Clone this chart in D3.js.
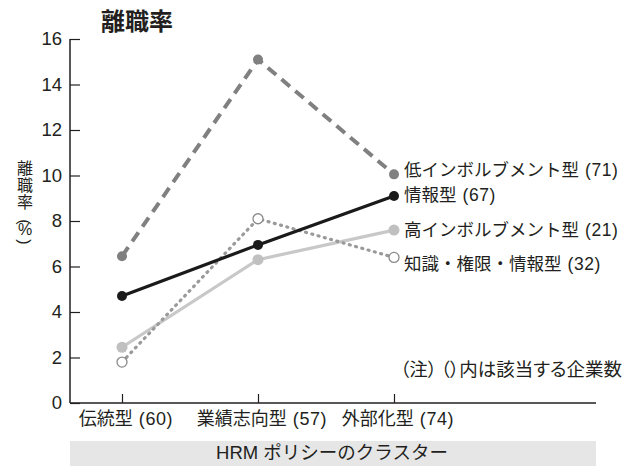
<!DOCTYPE html>
<html lang="ja">
<head>
<meta charset="utf-8">
<title>離職率</title>
<script src="https://d3js.org/d3.v7.min.js"></script>
<style>
  body { margin: 0; background: #fff; }
  svg text { font-family: "Liberation Sans", "Noto Sans CJK JP", sans-serif; fill: #231f20; }
</style>
</head>
<body>
<div id="chart"></div>
<script>
"use strict";

// データ
var categories = ["伝統型", "業績志向型", "外部化型"];
var categoryCounts = ["(60)", "(57)", "(74)"];
var seriesNames = ["低インボルブメント型", "情報型", "高インボルブメント型", "知識・権限・情報型"];
var seriesCounts = ["(71)", "(67)", "(21)", "(32)"];
var lowInvolvement = [6.45, 15.1, 10.05];
var information = [4.7, 6.95, 9.1];
var highInvolvement = [2.45, 6.3, 7.6];
var knowledge = [1.8, 8.1, 6.4];
var yTicks = [0, 2, 4, 6, 8, 10, 12, 14, 16];

var W = 635, H = 467;
var svg = d3.select("#chart").append("svg").attr("width", W).attr("height", H);

var x = d3.scalePoint().domain(categories).range([122, 394]);
var y = d3.scaleLinear().domain([0, 16]).range([403, 39]);

// タイトル
svg.append("text").attr("x", 101).attr("y", 30)
  .style("font-size", "24px").style("font-weight", "bold").attr("fill", "#2a2a2a")
  .text("離職率");

// y軸ラベル（縦書き）
var yl = svg.append("g").style("font-size", "16px");
["離", "職", "率"].forEach(function(c, i) {
  yl.append("text").attr("x", 25).attr("y", 174 + i * 17).attr("text-anchor", "middle").text(c);
});
yl.append("text").attr("transform", "translate(25,222) rotate(90)").attr("text-anchor", "middle")
  .attr("dy", "0.35em").text("(");
yl.append("text").attr("x", 25).attr("y", 235).attr("text-anchor", "middle").text("%");
yl.append("text").attr("transform", "translate(25,242) rotate(90)").attr("text-anchor", "middle")
  .attr("dy", "0.35em").text(")");

// y軸
var yAxis = svg.append("g").attr("transform", "translate(70,0)")
  .call(d3.axisRight(y).tickValues(yTicks).tickSize(10).tickFormat(d3.format("d")));
yAxis.select(".domain").attr("stroke", "#231f20").attr("stroke-width", 1.5).attr("d", "M0,39V403");
yAxis.selectAll(".tick line").attr("stroke", "#231f20").attr("stroke-width", 1.2);
yAxis.selectAll(".tick text").attr("x", -8).attr("text-anchor", "end")
  .style("font-size", "18.5px").attr("fill", "#333");

// x軸
var xAxis = svg.append("g").attr("transform", "translate(0,403)")
  .call(d3.axisTop(x).tickSize(9).tickFormat(function() { return ""; }));
xAxis.select(".domain").attr("stroke", "#231f20").attr("stroke-width", 1.5).attr("d", "M70,0H596");
xAxis.selectAll(".tick line").attr("stroke", "#231f20").attr("stroke-width", 1.2);

// カテゴリ名
categories.forEach(function(c, i) {
  var t = svg.append("text").attr("x", x(c) + 4).attr("y", 425).attr("text-anchor", "middle")
    .style("font-size", "18px");
  t.append("tspan").text(c);
  t.append("tspan").attr("dx", 6).style("letter-spacing", "0.6px").text(categoryCounts[i]);
});

// 系列
var series = [
  { values: lowInvolvement, color: "#808080", dash: "11,7", width: 4, fill: "#808080", r: 5 },
  { values: information, color: "#1a1a1a", dash: null, width: 3.2, fill: "#1a1a1a", r: 5 },
  { values: highInvolvement, color: "#c8c8c8", dash: null, width: 3.2, fill: "#c0c0c0", r: 5.5 },
  { values: knowledge, color: "#9a9a9a", dash: "1,5.5", width: 3.2, fill: "#fff", r: 5 }
];

var line = d3.line().x(function(d, i) { return x(categories[i]); }).y(function(d) { return y(d); });

var drawOrder = [2, 3, 0, 1];
drawOrder.forEach(function(k) {
  var s = series[k];
  svg.append("path").attr("d", line(s.values)).attr("fill", "none")
    .attr("stroke", s.color).attr("stroke-width", s.width)
    .attr("stroke-dasharray", s.dash).attr("stroke-linecap", k === 3 ? "round" : "butt");
  svg.selectAll(null).data(s.values).enter().append("circle")
    .attr("cx", function(d, i) { return x(categories[i]); })
    .attr("cy", function(d) { return y(d); })
    .attr("r", s.r)
    .attr("fill", s.fill)
    .attr("stroke", k === 3 ? "#8a8a8a" : "none")
    .attr("stroke-width", 1.3);
});

// 凡例ラベル
var labelY = [170, 195, 230, 264];
seriesNames.forEach(function(n, i) {
  var t = svg.append("text").attr("x", 404).attr("y", labelY[i]).attr("dy", "0.36em")
    .style("font-size", "17.5px");
  t.append("tspan").text(n);
  t.append("tspan").attr("dx", 6).style("letter-spacing", "0.6px").text(seriesCounts[i]);
});

// 注
svg.append("text").attr("x", 622).attr("y", 376).attr("text-anchor", "end")
  .style("font-size", "18.5px").style("font-family", "'Noto Sans CJK JP'")
  .style("font-feature-settings", "'palt'")
  .text("（注）\u2009（）内は該当する企業数");

// 下部バンド
svg.append("rect").attr("x", 70).attr("y", 441).attr("width", 526).attr("height", 25).attr("fill", "#e6e6e7");
svg.append("text").attr("x", 332).attr("y", 459).attr("text-anchor", "middle")
  .style("font-size", "18.5px").text("HRM ポリシーのクラスター");
</script>
</body>
</html>
